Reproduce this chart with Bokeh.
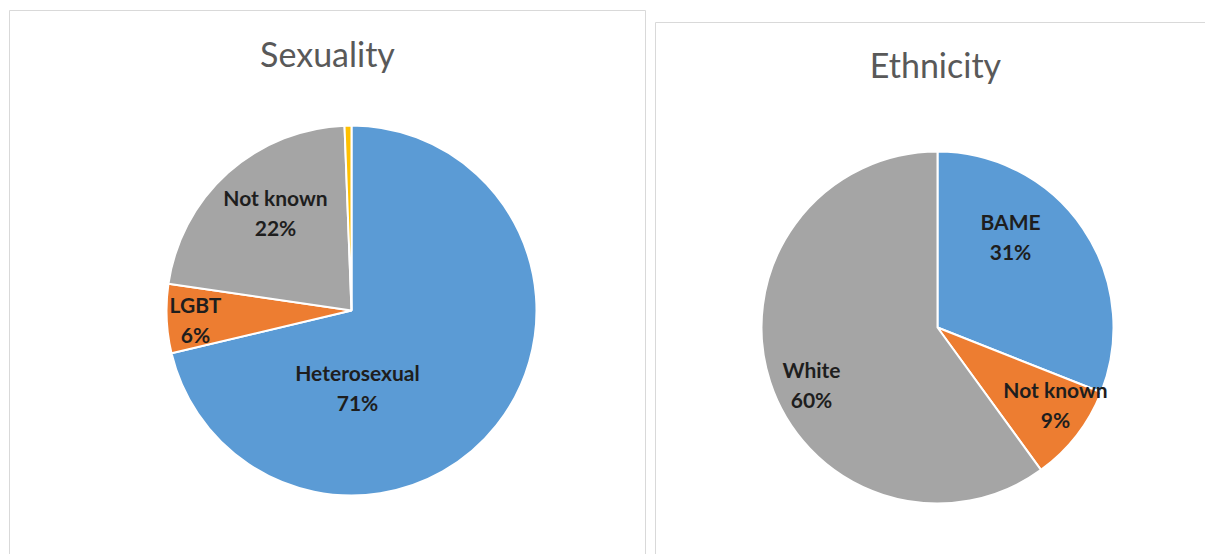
import numpy as np
from bokeh.plotting import figure
from bokeh.models import Range1d, ColumnDataSource
from bokeh.embed import file_html
from bokeh.resources import INLINE
from bokeh.core.properties import value

# ---------------- data ----------------
sex_title = "Sexuality"
sex_categories = ["Heterosexual", "LGBT", "Not known", "Other"]
sex_values = [71.0, 6.0, 22.0, 0.6]
sex_pct_labels = ["71%", "6%", "22%", ""]

eth_title = "Ethnicity"
eth_categories = ["BAME", "Not known", "White"]
eth_values = [31.0, 9.0, 60.0]
eth_pct_labels = ["31%", "9%", "60%"]

# ---------------- style / layout ----------------
sex_colors = ["#5B9BD5", "#ED7D31", "#A5A5A5", "#FFC000"]
eth_colors = ["#5B9BD5", "#ED7D31", "#A5A5A5"]
FONT = "Lato"
W, H = 1205, 554

def Y(sy):  # screen y -> data y
    return H - sy

p = figure(width=W, height=H, output_backend="svg", toolbar_location=None,
           x_range=Range1d(0, W), y_range=Range1d(0, H),
           min_border=0, tools="")
p.axis.visible = False
p.grid.visible = False
p.outline_line_color = None
p.background_fill_color = "white"
p.border_fill_color = "white"

# panel borders
p.quad(left=[9, 655], right=[645, 1215], top=[Y(10), Y(22)], bottom=[Y(600), Y(600)],
       fill_color=None, line_color="#D9D9D9", line_width=1)

def pie(cx, cy, r, vals, colors, cats, pcts, offsets):
    v = np.array(vals, dtype=float)
    frac = v / v.sum()
    cum = np.concatenate([[0], np.cumsum(frac)])
    start = np.pi / 2 - 2 * np.pi * cum[:-1]
    end = np.pi / 2 - 2 * np.pi * cum[1:]
    src = ColumnDataSource(dict(x=[cx] * len(v), y=[Y(cy)] * len(v),
                                start=start, end=end, color=colors))
    p.wedge(x="x", y="y", radius=r, radius_units="screen", start_angle="start",
            end_angle="end", direction="clock", fill_color="color",
            line_color="white", line_width=2, source=src)
    names, pl, xs, y1, y2 = [], [], [], [], []
    for c, t, off in zip(cats, pcts, offsets):
        if off is None:
            continue
        names.append(c); pl.append(t)
        xs.append(cx + off[0]); y1.append(Y(cy + off[1])); y2.append(Y(cy + off[1] + 30))
    for txt, yy in ((names, y1), (pl, y2)):
        p.text(x=xs, y=yy, text=txt, text_font=value(FONT), text_font_size="21px",
               text_font_style="bold", text_color="#1E1E1E", text_align="center",
               text_baseline="alphabetic")

# label offsets relative to pie centre (name baseline)
sex_offsets = [(6, 62), (-156, -6), (-76, -113), None]
eth_offsets = [(73, -106), (118, 62), (-126, 42)]

pie(351, 310, 185, sex_values, sex_colors, sex_categories, sex_pct_labels, sex_offsets)
pie(937, 327, 176, eth_values, eth_colors, eth_categories, eth_pct_labels, eth_offsets)

p.text(x=[327, 935], y=[Y(53), Y(64)], text=[sex_title, eth_title], text_font=value(FONT),
       text_font_size="34px", text_color="#595959", text_align="center",
       text_baseline="alphabetic")

open("out.html", "w").write(file_html(p, INLINE))
